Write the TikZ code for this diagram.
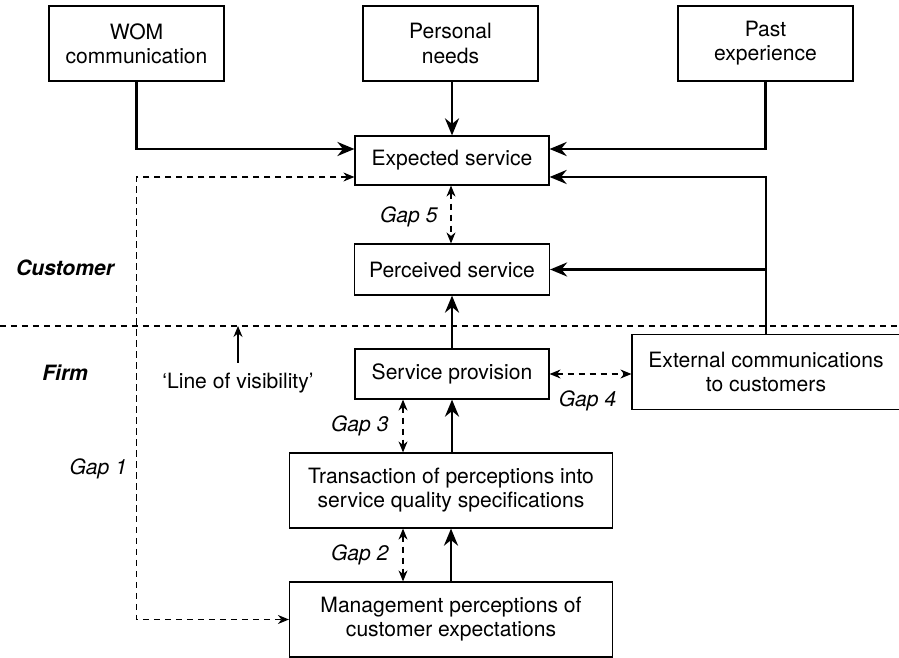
\documentclass[tikz,border=0pt]{standalone}
\usepackage{fontspec}
\setmainfont{TeX Gyre Heros}
\usepackage{tikz}
\usetikzlibrary{arrows.meta,positioning}
\tikzstyle{block} = [rectangle, draw, line width=0.7pt, align=center,
                     inner sep=0pt, font=\fontsize{12}{13.7}\selectfont]
\tikzstyle{arrow} = [-{Stealth[length=3.4mm,width=2.8mm]}, line width=1.5pt]
\tikzstyle{gap} = [{Stealth[length=2.2mm,width=1.8mm]}-{Stealth[length=2.2mm,width=1.8mm]},
                   line width=0.6pt, dash pattern=on 0.13cm off 0.09cm]
\tikzstyle{gaplabel} = [inner sep=0pt, font=\fontsize{12}{13.7}\selectfont\itshape]
\tikzstyle{side} = [inner sep=0pt, font=\fontsize{12}{13.7}\selectfont\bfseries\itshape]

\begin{document}
\begin{tikzpicture}[x=0.02cm, y=-0.02cm]
    \useasboundingbox (0,0) rectangle (899,658);
    % top row
    \node [block, minimum width=3.5cm, minimum height=1.5cm] (wom)  at (136.5,43.5) {WOM\\communication};
    \node [block, minimum width=3.5cm, minimum height=1.5cm] (need) at (450.5,43.5) {Personal\\needs};
    \node [block, minimum width=3.5cm, minimum height=1.5cm] (past) at (765.5,43.5) {Past\\experience};
    % customer side
    \node [block, minimum width=3.88cm, minimum height=0.98cm] (exp)  at (452,160.5) {Expected service};
    \node [block, minimum width=3.9cm, minimum height=1.02cm]  (perc) at (452,269.5) {Perceived service};
    % firm side
    \node [block, minimum width=3.88cm, minimum height=1.0cm]  (prov) at (452,374)   {Service provision};
    \node [block, minimum width=5.36cm, minimum height=1.5cm]  (ext)  at (766,372)   {External communications\\to customers};
    \node [block, minimum width=6.46cm, minimum height=1.5cm]  (spec) at (451,490.5) {Transaction of perceptions into\\service quality specifications};
    \node [block, minimum width=6.46cm, minimum height=1.5cm]  (mgmt) at (451,619.5) {Management perceptions of\\customer expectations};

    \node [side] (cust) at (65,268) {Customer};
    \node [side] (firm) at (65,373) {Firm};

    % line of visibility
    \coordinate (vl) at (0,326);
    \coordinate (vr) at (899,326);
    \draw [line width=0.6pt, dash pattern=on 0.13cm off 0.09cm] (vl) -- (vr);
    \node [inner sep=0pt, font=\fontsize{12}{13.7}\selectfont] (vis) at (238,383) {‘Line of visibility’};
    \draw [-{Stealth[length=2.2mm,width=1.8mm]}, line width=0.7pt] ([yshift=0.2cm]vis.north) -- (vis.north |- vl);

    \draw [arrow] (wom.south) |- ([yshift=0.23cm]exp.west);
    \draw [arrow] (need.south -| exp.north) -- (exp.north);
    \draw [arrow] (past.south) |- ([yshift=0.23cm]exp.east);
    \draw [arrow] (ext.north) |- ([yshift=-0.33cm]exp.east);
    \draw [arrow] (ext.north |- perc.east) -- (perc.east);
    \draw [arrow] (prov) -- (perc);
    \draw [arrow] (spec.north -| prov.south) -- (prov.south);
    \draw [arrow] (mgmt.north) -- (spec.south);

    \draw [gap] ([xshift=-0.02cm]exp.south) -- node[gaplabel, left=0.26cm, yshift=-0.05cm]{Gap 5} ([xshift=-0.02cm]perc.north);
    \draw [gap] ([xshift=-0.98cm]prov.south) -- node[gaplabel, left=0.28cm]{Gap 3} ([xshift=-0.98cm]prov.south |- spec.north);
    \draw [gap] ([xshift=-0.96cm]spec.south) -- node[gaplabel, left=0.28cm]{Gap 2} ([xshift=-0.96cm]spec.south |- mgmt.north);
    \draw [gap] (prov.east) -- node[gaplabel, below=0.32cm, xshift=-0.06cm]{Gap 4} (prov.east -| ext.west);
    \draw [gap] ([yshift=-0.33cm]exp.west) -| node[gaplabel, pos=0.83, left=0.18cm]{Gap 1} (wom.south |- mgmt.west) -- (mgmt.west);
  \end{tikzpicture}
\end{document}
